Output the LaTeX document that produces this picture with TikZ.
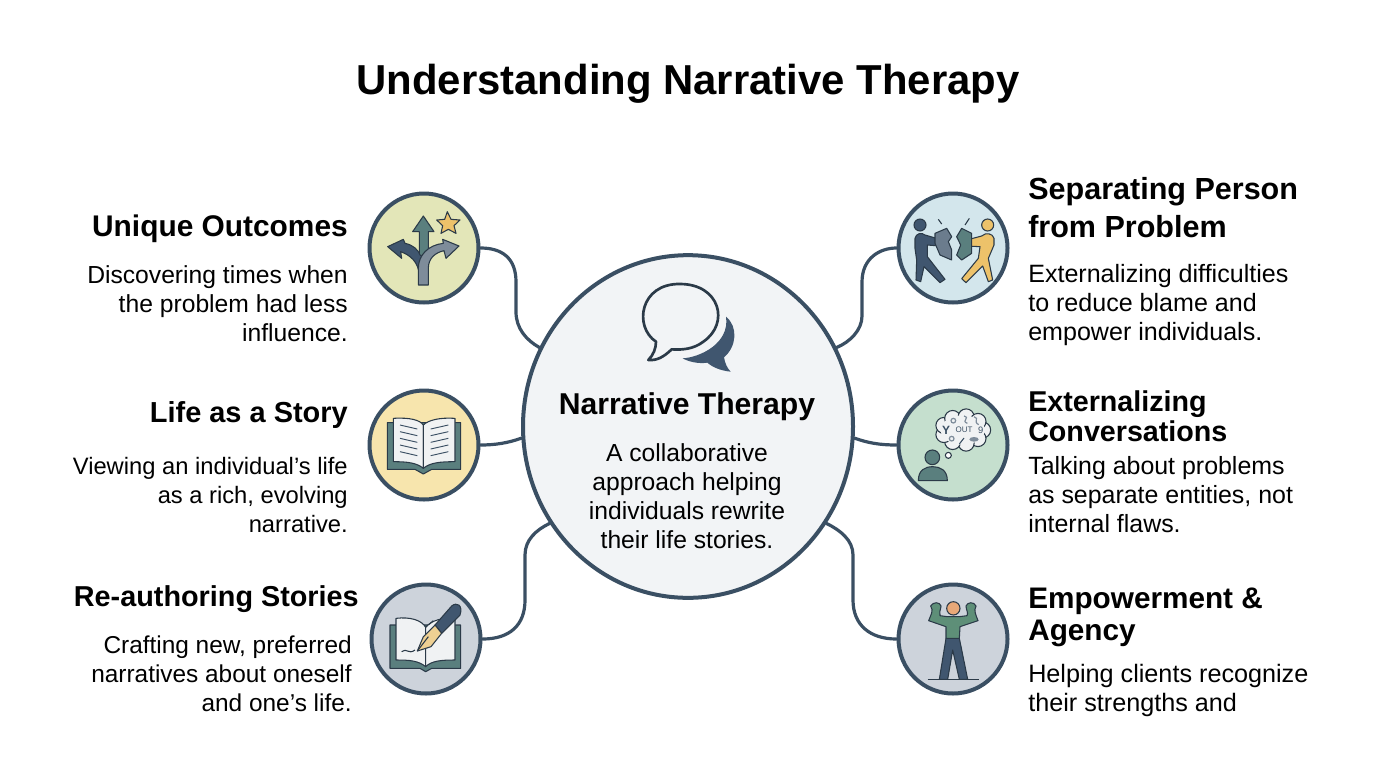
\documentclass[tikz,border=0pt]{standalone}
\usepackage{fontspec}
\setmainfont{Liberation Sans}
\usetikzlibrary{shapes.geometric}
\definecolor{inkdark}{HTML}{3A4F63}
\definecolor{inkline}{HTML}{2B3A48}
\definecolor{huefill}{HTML}{F2F4F6}
\definecolor{teal}{HTML}{5A7F7E}
\definecolor{slateblue}{HTML}{40566F}
\definecolor{greyblue}{HTML}{7E8C9A}
\definecolor{goldie}{HTML}{EDC26A}
\definecolor{paper}{HTML}{F0F2F3}
\definecolor{olivewash}{HTML}{E3E6B8}
\definecolor{sandwash}{HTML}{F7E5AD}
\definecolor{greywash}{HTML}{CDD3DB}
\definecolor{icewash}{HTML}{D3E6EC}
\definecolor{mintwash}{HTML}{C5DFCE}
\definecolor{shirt}{HTML}{5E8F78}
\definecolor{skin}{HTML}{E8A878}
\tikzset{
	hub/.style={ellipse, draw=inkdark, fill=huefill, line width=3pt, minimum width=247.5pt, minimum height=257pt, inner sep=0pt},
	spot/.style={circle, draw=inkdark, line width=3pt, minimum size=81.75pt, inner sep=0pt},
	spoke/.style={draw=inkdark, line width=2.4pt, line cap=round},
	titletext/.style={font=\fontsize{31.4}{36}\selectfont\bfseries},
	headtext/.style 2 args={font=\fontsize{#1}{#2}\selectfont\bfseries},
	bodytext/.style={font=\fontsize{#1}{21.75}\selectfont},
	bodytext/.default=18.5,
	lefttext/.style={anchor=east, align=right, inner sep=0pt},
	righttext/.style={anchor=west, align=left, inner sep=0pt},
	icon/.style={x=.25pt, y=-.25pt},
	ink/.style={draw=inkline, line width=.8pt, line join=round},
}
\begin{document}
\begin{tikzpicture}[x=.75pt, y=-.75pt]
	\useasboundingbox (0,0) rectangle (1376,768);
	\node[titletext] (title) at (688,84) {Understanding Narrative Therapy};

	\node[hub] (centre) at (688,426.5) {};
	\node[spot, fill=olivewash] (unique) at (424,248) {};
	\node[spot, fill=sandwash] (story) at (424,445) {};
	\node[spot, fill=greywash] (reauthor) at (426,639) {};
	\node[spot, fill=icewash] (separate) at (953,248) {};
	\node[spot, fill=mintwash] (external) at (953,445) {};
	\node[spot, fill=greywash] (power) at (953,639) {};

	% connectors
	\draw[spoke] (unique.east) .. controls (502,248) and (516,258) .. (516,282) -- (516,312) .. controls (516,328) and (526,340) .. (centre.152);
	\draw[spoke] (story.east) .. controls (495,445) and (508,443) .. (centre.184);
	\draw[spoke] (reauthor.east) .. controls (510,639) and (525,625) .. (525,600) -- (525,555) .. controls (525,540) and (536,530) .. (centre.215);
	\draw[spoke] (separate.west) .. controls (880,248) and (862,258) .. (862,282) -- (862,316) .. controls (862,330) and (850,342) .. (centre.28);
	\draw[spoke] (external.west) .. controls (880,445) and (868,443) .. (centre.356);
	\draw[spoke] (power.west) .. controls (870,639) and (853,625) .. (853,600) -- (853,555) .. controls (853,540) and (840,530) .. (centre.325);

	\node[headtext={22.6}{28}] (centrehead) at (687,407) {Narrative Therapy};
	\node[bodytext, align=center] (centrebody) at (687,496.5) {A collaborative\\approach helping\\individuals rewrite\\their life stories.};

	\node[headtext={22.4}{28}, lefttext] (uniquehead) at (348,229) {Unique Outcomes};
	\node[bodytext, lefttext] (uniquebody) at (348,304) {Discovering times when\\the problem had less\\influence.};
	\node[headtext={21.7}{28}, lefttext] (storyhead) at (348,415) {Life as a Story};
	\node[bodytext=17.8, lefttext] (storybody) at (348,495) {Viewing an individual’s life\\as a rich, evolving\\narrative.};
	\node[headtext={21.6}{28}, lefttext] (reauthorhead) at (359,599) {Re-authoring Stories};
	\node[bodytext=18.3, lefttext] (reauthorbody) at (352,673.5) {Crafting new, preferred\\narratives about oneself\\and one’s life.};

	\node[headtext={22.9}{28.5}, righttext] (separatehead) at (1028,208) {Separating Person\\from Problem};
	\node[bodytext=18.8, righttext] (separatebody) at (1028,305) {Externalizing difficulties\\to reduce blame and\\empower individuals.};
	\node[headtext={21.5}{22.5}, righttext] (externalhead) at (1028,416) {Externalizing\\Conversations};
	\node[bodytext=18.7, righttext] (externalbody) at (1028,495) {Talking about problems\\as separate entities, not\\internal flaws.};
	\node[headtext={22.3}{24}, righttext] (powerhead) at (1028,617) {Empowerment \&\\Agency};
	\node[bodytext=18.9, righttext] (powerbody) at (1028,690.5) {Helping clients recognize\\their strengths and};

	% speech bubbles
	\begin{scope}[shift={(620,270)}, icon]
		\fill[slateblue] (318,140) .. controls (355,170) and (350,230) .. (312,262) .. controls (315,280) and (322,295) .. (332,305) .. controls (300,302) and (275,290) .. (262,278) .. controls (235,282) and (205,275) .. (188,265) .. controls (240,262) and (330,220) .. (318,140) -- cycle;
		\draw[draw=huefill, line width=4pt, fill=huefill] (108,215) .. controls (40,170) and (60,40) .. (180,42) .. controls (300,42) and (330,160) .. (250,215) .. controls (220,238) and (185,240) .. (155,238) .. controls (130,262) and (110,272) .. (85,270) .. controls (100,255) and (108,235) .. (108,215) -- cycle;
		\draw[draw=inkline, line width=2pt, line join=round] (108,215) .. controls (40,170) and (60,40) .. (180,42) .. controls (300,42) and (330,160) .. (250,215) .. controls (220,238) and (185,240) .. (155,238) .. controls (130,262) and (110,272) .. (85,270) .. controls (100,255) and (108,235) .. (108,215) -- cycle;
	\end{scope}

	% forked arrows
	\begin{scope}[shift={(360,180)}, icon]
		\draw[ink, fill=teal] (190,108) -- (222,155) -- (205,155) -- (205,240) -- (178,240) -- (178,155) -- (158,155) -- cycle;
		\draw[ink, fill=slateblue] (83,200) -- (130,178) -- (135,190) .. controls (160,195) and (175,210) .. (180,225) -- (205,240) -- (178,285) .. controls (175,245) and (150,225) .. (122,215) -- (125,235) -- cycle;
		\draw[ink, fill=greyblue] (297,198) -- (258,235) -- (252,212) .. controls (225,218) and (205,235) .. (205,265) -- (205,315) -- (175,315) -- (175,265) .. controls (175,225) and (205,195) .. (250,190) -- (248,178) -- cycle;
		\draw[ink, fill=goldie] (262,95) -- (273,118) -- (300,120) -- (282,137) -- (288,160) -- (265,148) -- (243,160) -- (248,137) -- (230,120) -- (254,118) -- cycle;
	\end{scope}

	% open book
	\begin{scope}[shift={(360,380)}, icon]
		\draw[ink, fill=teal] (82,128) -- (302,128) -- (302,268) -- (215,268) -- (190,282) -- (165,268) -- (82,268) -- cycle;
		\draw[ink, fill=paper] (100,115) .. controls (150,112) and (180,120) .. (190,135) -- (190,265) .. controls (170,248) and (140,245) .. (100,245) -- cycle;
		\draw[ink, fill=paper] (190,135) .. controls (205,120) and (240,112) .. (285,115) -- (285,245) .. controls (240,245) and (210,248) .. (190,265) -- cycle;
		\foreach \y in {0,20,40,60,80} {
			\draw[draw=inkdark, line width=.7pt] (120,135+\y) -- (172,147+\y);
			\draw[draw=inkdark, line width=.7pt] (212,147+\y) -- (265,135+\y);
		}
	\end{scope}

	% book and pen
	\begin{scope}[shift={(360,570)}, icon]
		\draw[ink, fill=teal] (90,165) -- (302,165) -- (302,295) -- (215,295) -- (197,305) -- (180,295) -- (90,295) -- cycle;
		\draw[ink, fill=paper] (108,145) .. controls (150,140) and (185,150) .. (197,172) -- (197,290) .. controls (175,272) and (150,270) .. (108,270) -- cycle;
		\draw[ink, fill=paper] (197,172) .. controls (215,150) and (250,142) .. (285,145) -- (285,270) .. controls (245,270) and (215,272) .. (197,290) -- cycle;
		\draw[ink] (125,245) .. controls (140,232) and (145,255) .. (165,240);
		\draw[ink, fill=slateblue] (225,165) -- (275,108) .. controls (290,95) and (310,105) .. (300,135) -- (245,190) -- cycle;
		\draw[ink, fill=goldie!70!paper] (245,190) -- (225,165) -- (190,200) -- (172,243) -- (213,230) -- cycle;
		\draw[ink] (172,243) -- (205,200);
		\draw[ink] (205,165) -- (220,152);
	\end{scope}

	% two figures and a torn problem
	\begin{scope}[shift={(840,180)}, icon]
		\draw[ink, fill=slateblue] (225,175) .. controls (228,160) and (245,156) .. (255,165) -- (300,178) -- (300,198) -- (262,195) -- (262,230) -- (315,298) -- (300,308) -- (252,260) -- (242,305) -- (228,300) -- (230,240) -- (225,205) -- cycle;
		\draw[ink, fill=slateblue] (240,135) circle (18);
		\draw[ink, fill=goldie] (462,175) .. controls (458,160) and (438,156) .. (425,168) -- (380,180) -- (380,198) -- (420,200) -- (415,235) -- (365,296) -- (378,308) -- (428,258) -- (445,305) -- (458,300) -- (445,235) -- (462,195) -- cycle;
		\draw[ink, fill=goldie] (443,135) circle (18);
		\draw[ink, fill=greyblue!70!slateblue] (285,160) -- (320,145) -- (335,170) -- (325,185) -- (335,210) -- (335,240) -- (300,225) -- (285,190) -- cycle;
		\draw[ink, fill=teal] (365,145) -- (395,160) -- (395,220) -- (365,240) -- (350,225) -- (362,195) -- (350,170) -- cycle;
		\draw[ink] (295,118) -- (305,132) (388,115) -- (375,135);
	\end{scope}

	% person with thought cloud
	\begin{scope}[shift={(840,380)}, icon]
		\foreach \a in {0,40,...,320} {
			\draw[ink, fill=paper] (368+60*cos \a,150+40*sin \a) circle (24);
		}
		\fill[paper] (368,150) ellipse (66 and 44);
		\node[font=\fontsize{6}{7}\selectfont, text=inkdark, inner sep=0pt] (outword) at (372,150) {OUT};
		\node[font=\fontsize{7}{8}\selectfont, text=inkdark, inner sep=0pt] (nine) at (422,152) {9};
		\node[font=\fontsize{9}{10}\selectfont\bfseries, text=inkdark, inner sep=0pt] (why) at (318,150) {Y};
		\draw[draw=greyblue, line width=.9pt] (340,122) circle (7) (372,108) .. controls (392,114) and (362,122) .. (382,130) (402,110) .. controls (420,116) and (398,124) .. (416,134) (335,176) circle (7);
		\draw[draw=inkdark, line width=.8pt] (358,192) -- (372,174);
		\fill[greyblue] (402,178) ellipse (14 and 7);
		\draw[ink, fill=white] (325,226) circle (9);
		\draw[ink, fill=teal] (277,232) circle (22);
		\draw[ink, fill=teal] (235,302) .. controls (235,270) and (255,260) .. (278,260) .. controls (300,260) and (322,270) .. (322,302) -- cycle;
	\end{scope}

	% strong figure
	\begin{scope}[shift={(840,570)}, icon]
		\draw[ink, fill=slateblue] (318,205) -- (358,205) -- (383,328) -- (358,328) -- (338,240) -- (323,328) -- (298,328) -- cycle;
		\draw[ink, fill=shirt] (266,152) .. controls (272,135) and (282,122) .. (272,108) .. controls (280,94) and (300,96) .. (303,108) .. controls (302,120) and (296,128) .. (300,137) -- (322,140) -- (358,140) -- (381,137) .. controls (386,128) and (378,120) .. (378,108) .. controls (382,96) and (402,94) .. (408,108) .. controls (400,122) and (408,135) .. (414,152) -- (360,170) -- (358,205) -- (318,205) -- (318,170) -- cycle;
		\draw[ink, fill=skin] (340,115) circle (20);
		\draw[ink] (263,328) -- (418,328);
	\end{scope}
\end{tikzpicture}
\end{document}
